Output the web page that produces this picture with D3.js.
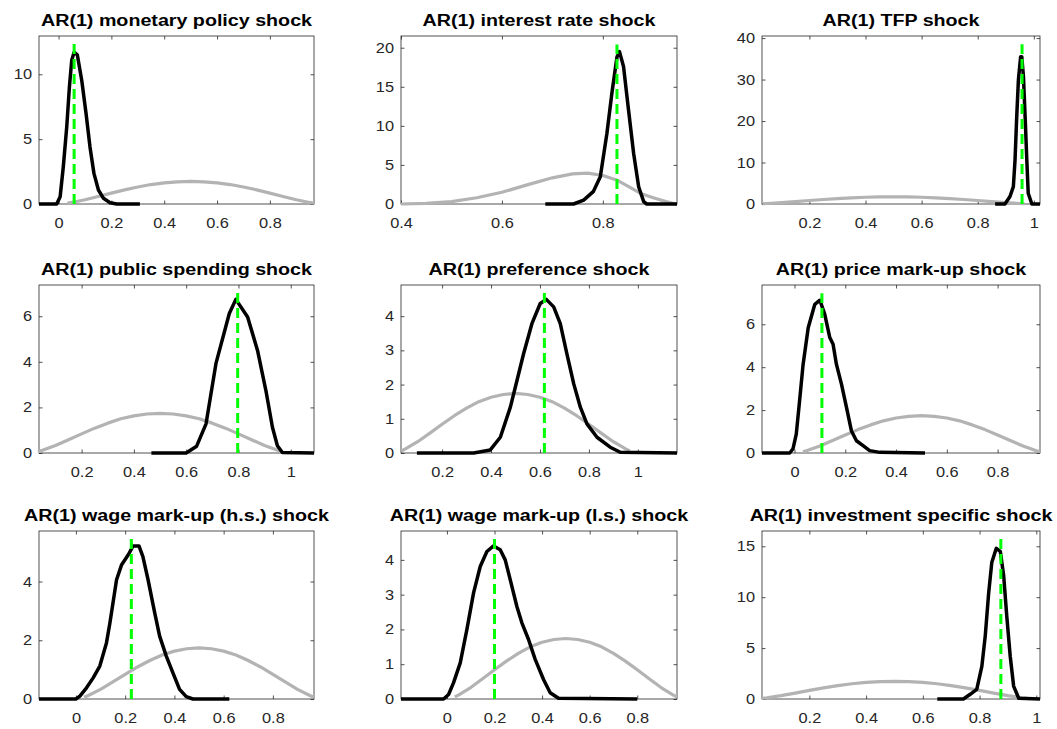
<!DOCTYPE html>
<html>
<head>
<meta charset="utf-8">
<script src="https://cdn.jsdelivr.net/npm/d3@7"></script>
<style>
  body { margin: 0; background: #fff; }
  svg { display: block; }
</style>
</head>
<body>
<svg id="chart"></svg>
<script>
const width = 1057;
const height = 729;

const titles = [
  "AR(1) monetary policy shock",
  "AR(1) interest rate shock",
  "AR(1) TFP shock",
  "AR(1) public spending shock",
  "AR(1) preference shock",
  "AR(1) price mark-up shock",
  "AR(1) wage mark-up (h.s.) shock",
  "AR(1) wage mark-up (l.s.) shock",
  "AR(1) investment specific shock"
];

const xDomains = [
  [-0.074, 0.967], [0.4, 0.947], [0.031, 1.022],
  [0.037, 1.089], [0.032, 1.16], [-0.128, 0.967],
  [-0.15, 0.967], [-0.193, 0.967], [0.033, 1.013]
];
const yMax = [12.95, 21.5, 40.5, 7.37, 4.91, 7.83, 5.72, 4.83, 16.5];

const xTickValues = [
  [0, 0.2, 0.4, 0.6, 0.8], [0.4, 0.6, 0.8], [0.2, 0.4, 0.6, 0.8, 1],
  [0.2, 0.4, 0.6, 0.8, 1], [0.2, 0.4, 0.6, 0.8, 1], [0, 0.2, 0.4, 0.6, 0.8],
  [0, 0.2, 0.4, 0.6, 0.8], [0, 0.2, 0.4, 0.6, 0.8], [0.2, 0.4, 0.6, 0.8, 1]
];
const yTickValues = [
  [0, 5, 10], [0, 5, 10, 15, 20], [0, 10, 20, 30, 40],
  [0, 2, 4, 6], [0, 1, 2, 3, 4], [0, 2, 4, 6],
  [0, 2, 4], [0, 1, 2, 3, 4], [0, 5, 10, 15]
];

// posterior mode (green dashed line) and its height
const modeX = [0.059, 0.828, 0.958, 0.797, 0.618, 0.108, 0.225, 0.2, 0.875];
const modeTop = [12.33, 20.4, 38.5, 7.05, 4.69, 7.44, 5.45, 4.6, 15.75];

// prior densities (grey)
const priorBeta = [
  [0.033, 0.06], [0.05, 0.12], [0.1, 0.33], [0.15, 0.58], [0.2, 0.84], [0.25, 1.09],
  [0.3, 1.31], [0.35, 1.5], [0.4, 1.63], [0.45, 1.71], [0.5, 1.74], [0.55, 1.71],
  [0.6, 1.63], [0.65, 1.5], [0.7, 1.31], [0.75, 1.09], [0.8, 0.84], [0.85, 0.58],
  [0.9, 0.33], [0.95, 0.12], [0.967, 0.06]
];
const priorInterest = [
  [0.4, 0], [0.45, 0.08], [0.5, 0.3], [0.55, 0.8], [0.6, 1.5], [0.65, 2.45],
  [0.7, 3.35], [0.74, 3.85], [0.77, 3.95], [0.8, 3.65], [0.83, 3.0], [0.86, 1.9],
  [0.875, 1.35], [0.9, 0.8], [0.915, 0.5], [0.94, 0.05], [0.947, 0]
];

// posterior densities (black)
const postMonetary = [
  [-0.074, 0], [-0.007, 0], [0.006, 0.56], [0.018, 2.87], [0.031, 5.95], [0.041, 9.0],
  [0.05, 11.1], [0.059, 11.7], [0.071, 11.5], [0.088, 9.5], [0.104, 7.0], [0.119, 4.4],
  [0.134, 2.36], [0.151, 1.08], [0.17, 0.44], [0.195, 0.1], [0.22, 0], [0.308, 0]
];
const postInterest = [
  [0.686, 0], [0.742, 0], [0.762, 0.5], [0.781, 1.58], [0.795, 3.5], [0.808, 9.0],
  [0.818, 14.2], [0.828, 18.8], [0.833, 19.5], [0.841, 17.6], [0.851, 12], [0.861, 6.5],
  [0.871, 2.2], [0.881, 0.3], [0.887, 0], [0.947, 0]
];
const postTfp = [
  [0.862, 0], [0.897, 0], [0.915, 1.8], [0.927, 4.2], [0.933, 10.6], [0.939, 21],
  [0.945, 29.9], [0.953, 35.5], [0.957, 35.5], [0.963, 30.7], [0.969, 21], [0.975, 10.6],
  [0.98, 2.6], [0.993, 0], [1.022, 0]
];
const postSpending = [
  [0.467, 0], [0.6, 0], [0.64, 0.3], [0.676, 1.28], [0.714, 3.93], [0.765, 6.12],
  [0.79, 6.74], [0.835, 5.97], [0.873, 4.5], [0.905, 2.74], [0.93, 1.13], [0.949, 0.32],
  [0.968, 0.02], [1.089, 0]
];
const postPreference = [
  [0.097, 0], [0.329, 0], [0.397, 0.09], [0.438, 0.46], [0.479, 1.34], [0.506, 2.12],
  [0.533, 2.9], [0.567, 3.78], [0.601, 4.37], [0.626, 4.49], [0.656, 4.27], [0.683, 3.78],
  [0.71, 2.9], [0.738, 2.02], [0.765, 1.34], [0.792, 0.85], [0.833, 0.46], [0.887, 0.17],
  [0.928, 0.02], [1.16, 0]
];
const postPrice = [
  [-0.128, 0], [-0.019, 0], [-0.006, 0.19], [0.007, 0.88], [0.02, 2.43], [0.034, 4.14],
  [0.054, 5.84], [0.08, 6.93], [0.1, 7.12], [0.119, 6.47], [0.139, 5.38], [0.152, 5.07],
  [0.165, 4.14], [0.185, 3.21], [0.205, 2.12], [0.224, 1.04], [0.244, 0.57], [0.27, 0.34],
  [0.296, 0.11], [0.336, 0.03], [0.514, 0]
];
const postWageHs = [
  [-0.15, 0], [0, 0], [0.016, 0.1], [0.043, 0.38], [0.07, 0.72], [0.097, 1.12],
  [0.124, 1.91], [0.138, 2.59], [0.165, 4.06], [0.185, 4.56], [0.212, 4.9], [0.232, 5.21],
  [0.256, 5.21], [0.272, 4.85], [0.293, 4.06], [0.32, 2.93], [0.34, 2.14], [0.367, 1.46],
  [0.394, 0.89], [0.421, 0.33], [0.448, 0.08], [0.475, 0], [0.623, 0]
];
const postWageLs = [
  [-0.193, 0], [-0.014, 0], [0.007, 0.13], [0.028, 0.47], [0.056, 1.04], [0.084, 2.0],
  [0.112, 3.05], [0.14, 3.81], [0.168, 4.24], [0.196, 4.4], [0.224, 4.29], [0.245, 4.0],
  [0.266, 3.43], [0.294, 2.66], [0.315, 2.19], [0.343, 1.71], [0.371, 1.14], [0.406, 0.56],
  [0.434, 0.18], [0.469, 0.02], [0.8, 0]
];
const postInvestment = [
  [0.651, 0], [0.743, 0], [0.767, 0.46], [0.79, 0.95], [0.808, 3.2], [0.82, 6.2],
  [0.832, 10.4], [0.843, 13.4], [0.859, 14.8], [0.873, 14.5], [0.885, 12.1], [0.896, 8.1],
  [0.908, 4.2], [0.92, 1.27], [0.938, 0.07], [1.013, 0]
];

const priors = [priorBeta, priorInterest, priorBeta, priorBeta, priorBeta, priorBeta, priorBeta, priorBeta, priorBeta];
const posteriors = [postMonetary, postInterest, postTfp, postSpending, postPreference, postPrice, postWageHs, postWageLs, postInvestment];

// layout of the 3x3 grid
const colLeft = [39, 401, 762];
const colWidth = [275, 276, 278];
const rowTop = [36, 285, 531];
const plotH = 168;
const tickLen = 3.5;
const titleStretch = 1.23; // the original text is drawn a bit wide
const tickStretch = 1.17;
const fontFamily = "'Liberation Sans', Arial, Helvetica, sans-serif";
const axisColor = "#262626";

const svg = d3.select("#chart").attr("width", width).attr("height", height);
svg.append("rect").attr("width", width).attr("height", height).attr("fill", "#fff");

titles.forEach((title, i) => {
  const col = i % 3;
  const row = Math.floor(i / 3);
  const w = colWidth[col];
  const h = plotH;

  const g = svg.append("g").attr("transform", `translate(${colLeft[col]},${rowTop[row]})`);

  const x = d3.scaleLinear().domain(xDomains[i]).range([0, w]);
  const y = d3.scaleLinear().domain([0, yMax[i]]).range([h, 0]);

  // box
  g.append("rect")
    .attr("width", w)
    .attr("height", h)
    .attr("fill", "none")
    .attr("stroke", axisColor)
    .attr("stroke-width", 0.8);

  const bottom = g.append("g")
    .attr("transform", `translate(0,${h})`)
    .call(d3.axisBottom(x).tickValues(xTickValues[i]).tickSize(-tickLen).tickPadding(14).tickFormat(d => String(d)));
  const left = g.append("g")
    .call(d3.axisLeft(y).tickValues(yTickValues[i]).tickSize(-tickLen).tickPadding(7).tickFormat(d => String(d)));
  const top = g.append("g")
    .call(d3.axisTop(x).tickValues(xTickValues[i]).tickSize(-tickLen).tickFormat(""));
  const right = g.append("g")
    .attr("transform", `translate(${w},0)`)
    .call(d3.axisRight(y).tickValues(yTickValues[i]).tickSize(-tickLen).tickFormat(""));

  [bottom, left, top, right].forEach(a => {
    a.select(".domain").remove();
    a.selectAll(".tick line").attr("stroke", axisColor).attr("stroke-width", 0.8);
    a.selectAll("text")
      .attr("fill", axisColor)
      .style("font-family", fontFamily)
      .style("font-size", "14px");
  });
  bottom.selectAll("text").attr("transform", `scale(${tickStretch},1)`);
  left.selectAll("text").attr("x", -7 / tickStretch).attr("transform", `scale(${tickStretch},1)`);

  // data, clipped to the axes (with a little room for line width)
  g.append("clipPath").attr("id", "clip" + i)
    .append("rect").attr("x", -2).attr("y", -2).attr("width", w + 4).attr("height", h + 4);
  const plot = g.append("g").attr("clip-path", `url(#clip${i})`);

  const line = d3.line().x(d => x(d[0])).y(d => y(d[1]));

  plot.append("path")
    .datum(priors[i])
    .attr("d", line)
    .attr("fill", "none")
    .attr("stroke", "#b3b3b3")
    .attr("stroke-width", 3.2)
    .attr("stroke-linejoin", "round");

  plot.append("path")
    .datum(posteriors[i])
    .attr("d", line)
    .attr("fill", "none")
    .attr("stroke", "#000")
    .attr("stroke-width", 3.5)
    .attr("stroke-linejoin", "round");

  plot.append("line")
    .attr("x1", x(modeX[i]))
    .attr("x2", x(modeX[i]))
    .attr("y1", y(0))
    .attr("y2", y(modeTop[i]))
    .attr("stroke", "#00ff00")
    .attr("stroke-width", 3)
    .attr("stroke-dasharray", "10,5");

  g.append("text")
    .attr("transform", `translate(${w / 2},-10) scale(${titleStretch},1)`)
    .attr("text-anchor", "middle")
    .style("font-family", fontFamily)
    .style("font-size", "16px")
    .style("font-weight", "bold")
    .attr("fill", "#000")
    .text(title);
});
</script>
</body>
</html>
